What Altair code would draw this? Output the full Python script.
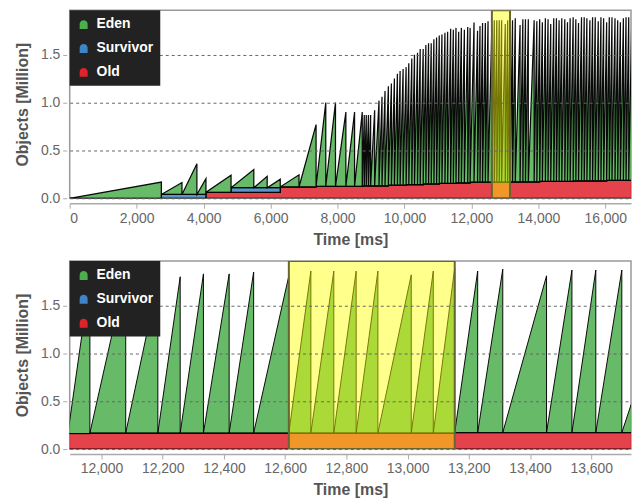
import altair as alt
import pandas as pd

# ---------------- data ----------------
series_names = ["Eden", "Survivor", "Old"]
series_colors = ["#4cae4c", "#3d85c6", "#e0222b"]

# time of each garbage collection (ms) and the total heap objects just before it (Million)
gc_times = [
    2738, 3354, 3800, 4070, 4820, 5500, 5900, 6290, 6850, 7360,
    7650, 7940, 8250, 8510, 8740, 8800, 8860, 8925, 8990, 9110,
    9240, 9330, 9420, 9520, 9610, 9700, 9790, 9870, 9960, 10050,
    10130, 10220, 10300, 10390, 10470, 10560, 10640, 10720, 10800, 10880,
    10960, 11040, 11120, 11210, 11290, 11380, 11460, 11540, 11620, 11700,
    11790, 11890, 11962, 12079, 12184, 12257, 12333, 12417, 12497, 12612,
    12684, 12759, 12832, 12903, 13012, 13084, 13154, 13229, 13311, 13454,
    13537, 13615, 13700, 13875, 13955, 14040, 14120, 14210, 14290, 14370,
    14460, 14540, 14620, 14700, 14790, 14870, 14950, 15040, 15120, 15200,
    15290, 15370, 15450, 15540, 15620, 15700, 15790, 15870, 15950, 16040,
    16120, 16200, 16290, 16370, 16450, 16540, 16620, 16700, 16790, 16870,
    16950, 17040, 17120, 17200, 17290, 17370, 17450, 17540, 17620]
gc_peaks = [
    0.169, 0.165, 0.36, 0.205, 0.24, 0.30, 0.23, 0.20, 0.245, 0.77,
    1.00, 1.00, 0.90, 0.90, 0.90, 0.87, 0.87, 0.87, 0.87, 0.92,
    1.02, 1.06, 1.12, 1.17, 1.20, 1.25, 1.30, 1.33, 1.35, 1.37,
    1.41, 1.46, 1.50, 1.52, 1.56, 1.56, 1.60, 1.62, 1.62, 1.66,
    1.68, 1.70, 1.71, 1.73, 1.74, 1.77, 1.76, 1.78, 1.74, 1.78,
    1.76, 1.79, 1.78, 1.835, 1.75, 1.80, 1.83, 1.83, 1.85, 1.81,
    1.86, 1.86, 1.86, 1.86, 1.82, 1.86, 1.89, 1.86, 1.88, 1.81,
    1.87, 1.87, 1.87, 1.86, 1.85, 1.87, 1.84, 1.88, 1.87, 1.82,
    1.88, 1.88, 1.86, 1.88, 1.87, 1.84, 1.88, 1.89, 1.87, 1.83,
    1.89, 1.89, 1.88, 1.86, 1.89, 1.89, 1.85, 1.89, 1.88, 1.84,
    1.89, 1.89, 1.88, 1.86, 1.84, 1.88, 1.89, 1.89, 1.85, 1.88,
    1.89, 1.87, 1.83, 1.88, 1.89, 1.88, 1.86, 1.89, 1.87]

# old generation level (Million), changing at these GC times
old_step_times = [0, 4070, 6290, 7360, 8740, 9520, 10050, 10560, 11040, 11540,
                  11962, 13154, 14040, 15040, 16040, 17040]
old_step_levels = [0.0, 0.062, 0.118, 0.125, 0.13, 0.137, 0.143, 0.150, 0.156, 0.162,
                   0.168, 0.172, 0.177, 0.182, 0.186, 0.19]

# survivor space level (Million)
surv_step_times = [0, 2738, 4070, 4820, 6290]
surv_step_levels = [0.0, 0.04, 0.0, 0.048, 0.0]

# selected time range (highlight)
band_start = [12612]
band_end = [13154]

top_x_ticks = [0, 2000, 4000, 6000, 8000, 10000, 12000, 14000, 16000]
bottom_x_ticks = [12000, 12200, 12400, 12600, 12800, 13000, 13200, 13400, 13600]
y_ticks = [0, 0.5, 1.0, 1.5]


def level_at(t, times, levels):
    v = levels[0]
    for tt, lv in zip(times, levels):
        if tt <= t:
            v = lv
    return v


rows = []
idx = 0
start = 0
for end, peak in zip(gc_times, gc_peaks):
    old = level_at(start, old_step_times, old_step_levels)
    surv = level_at(start, surv_step_times, surv_step_levels)
    base = old + surv
    for t, top, bot, s in [
        (start, old, 0.0, "Old"), (end, old, 0.0, "Old"),
        (start, base, old, "Survivor"), (end, base, old, "Survivor"),
        (start, base, base, "Eden"), (end, peak, base, "Eden"),
    ]:
        rows.append({"t": t, "top": top, "bot": bot, "series": s, "i": idx})
        idx += 1
    start = end

df = pd.DataFrame(rows)
band_df = pd.DataFrame({"start": band_start, "end": band_end})

FONT = "Liberation Sans"
YMAX = 1.965
dome = "M-0.8,1 L-0.8,0 C-0.8,-1.05 0.8,-1.05 0.8,0 L0.8,1 Z"


def panel(xdomain, xticks, w, h, sw):
    xaxis = alt.Axis(values=xticks, format=",d", title="Time [ms]", grid=False, offset=5,
                     domainColor="#aaaaaa", domainWidth=1.5, tickColor="#aaaaaa", tickSize=5,
                     labelFont=FONT, labelFontSize=14, labelColor="#666666", labelPadding=3,
                     titleFont=FONT, titleFontSize=16, titleFontWeight="bold",
                     titleColor="#555555", titlePadding=6)
    yaxis = alt.Axis(values=y_ticks, format=".1f", title="Objects [Million]", offset=3,
                     domain=False, tickColor="#aaaaaa", tickSize=4, zindex=1,
                     grid=True, gridDash=[3, 3], gridColor="#666666", gridWidth=1,
                     labelFont=FONT, labelFontSize=14, labelColor="#666666", labelPadding=3,
                     titleFont=FONT, titleFontSize=16, titleFontWeight="bold",
                     titleColor="#555555", titlePadding=10)
    areas = alt.Chart(df).mark_area(
        clip=True, stroke="black", strokeWidth=sw, fillOpacity=0.85, strokeOpacity=0.95
    ).encode(
        x=alt.X("t:Q", scale=alt.Scale(domain=xdomain, nice=False, zero=False), axis=xaxis),
        y=alt.Y("top:Q", stack=None, scale=alt.Scale(domain=[0, YMAX], nice=False), axis=yaxis),
        y2="bot:Q",
        color=alt.Color("series:N",
                        scale=alt.Scale(domain=series_names, range=series_colors),
                        legend=alt.Legend(title=None, orient="top-left", offset=0,
                                          fillColor="#222222", padding=7,
                                          labelColor="white", labelFont=FONT,
                                          labelFontSize=14, labelFontWeight="bold",
                                          symbolType=dome, symbolSize=100,
                                          symbolOpacity=1, symbolStrokeWidth=0,
                                          rowPadding=10, labelOffset=6, zindex=2)),
    )
    band = alt.Chart(band_df).mark_rect(
        fill="#ffff00", fillOpacity=0.45, stroke="#666633", strokeWidth=2, clip=True
    ).encode(
        x=alt.X("start:Q", title="Time [ms]"),
        x2="end:Q",
    )
    return alt.layer(areas, band).properties(width=w, height=h)


top = panel([0, 16768], top_x_ticks, 564, 189, 1.25)
bottom = panel([11896, 13730], bottom_x_ticks, 564, 189, 1.0)

chart = alt.vconcat(top, bottom, spacing=12).resolve_legend(color="independent").properties(
    padding={"left": 5, "top": 0, "right": 0, "bottom": 0},
    background="white",
).configure_view(stroke="#999999", strokeWidth=1.5)

chart.save("out.html", embed_options={"renderer": "svg", "actions": False})
